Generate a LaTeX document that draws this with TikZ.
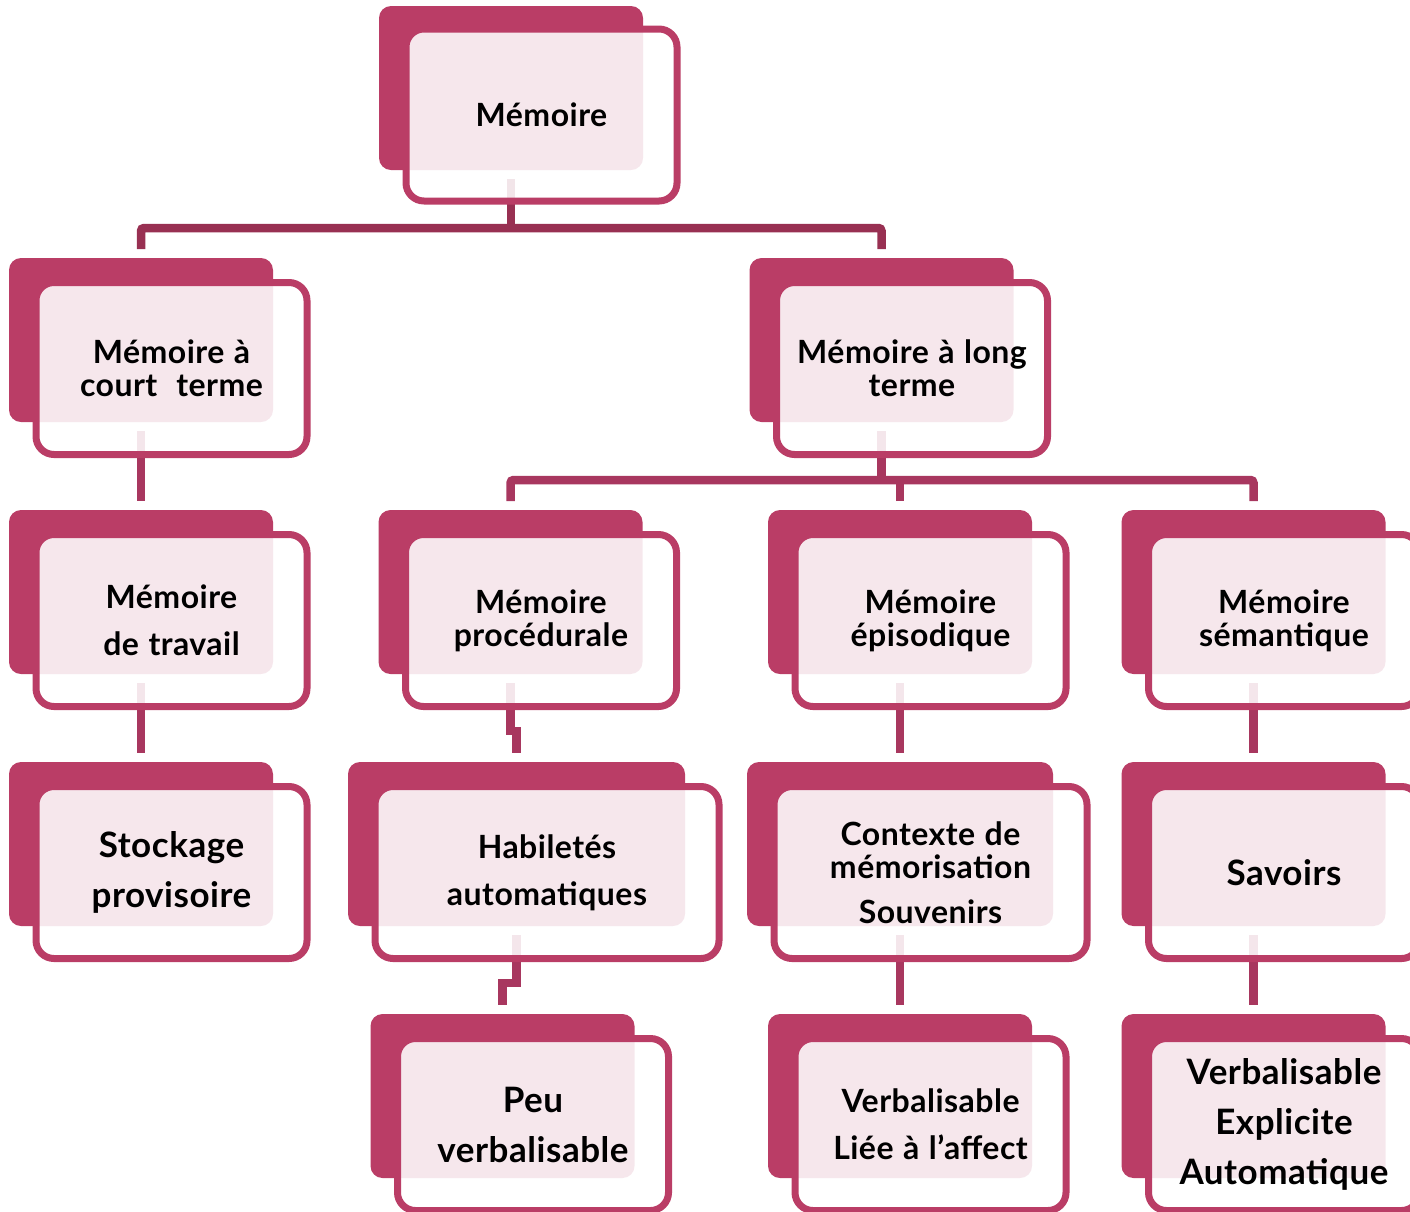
\documentclass[tikz,border=0pt]{standalone}
\usepackage{fontspec}
\setmainfont{Lato}[LetterSpace=1.5, WordSpace=1.15]
\usetikzlibrary{calc}
\definecolor{mpink}{RGB}{186,61,102}
\definecolor{mlink}{RGB}{168,55,95}
\definecolor{mtop}{RGB}{152,48,82}

\begin{document}
\begin{tikzpicture}[x=1pt, y=-1pt,
    backbox/.style={fill=mpink, rounded corners=12pt, minimum width=264pt, minimum height=164pt, inner sep=0pt, outer sep=9pt},
    frontbox/.style={draw=mpink, line width=7pt, fill=white, fill opacity=0.88, text opacity=1, rounded corners=18pt,
      minimum width=271pt, minimum height=172pt, inner sep=0pt, align=center, font=\bfseries\fontsize{32}{33}\selectfont},
    bigtext/.style={font=\bfseries\fontsize{35}{50}\selectfont},
    link/.style={mlink, line width=8.5pt},
    toplink/.style={link, draw=mtop}]

      \useasboundingbox (0, 0) rectangle (1410, 1211);
      \clip (0, 0) rectangle (1410, 1211);

      % back plates
      \node [backbox] (mem-b) at (511, 88) {};
      \node [backbox] (court-b) at (141, 340) {};
      \node [backbox] (long-b) at (881.5, 340) {};
      \node [backbox] (trav-b) at (141, 592) {};
      \node [backbox] (proc-b) at (510.5, 592) {};
      \node [backbox] (epi-b) at (900, 592) {};
      \node [backbox] (sem-b) at (1253.5, 592) {};
      \node [backbox] (stock-b) at (141, 844) {};
      \node [backbox, minimum width=337pt] (hab-b) at (516.5, 844) {};
      \node [backbox, minimum width=306pt] (ctx-b) at (900, 844) {};
      \node [backbox] (sav-b) at (1253.5, 844) {};
      \node [backbox] (peu-b) at (502.5, 1096) {};
      \node [backbox] (lie-b) at (900, 1096) {};
      \node [backbox] (expl-b) at (1253.5, 1096) {};

      % connectors
      \draw [toplink] (mem-b.south) -- ++(0, 49) coordinate (topbar);
      \draw [toplink, rounded corners=3pt] (court-b.north) |- (topbar) -| (long-b.north);
      \draw [link] (court-b.south) -- (trav-b.north);
      \draw [link] (trav-b.south) -- (stock-b.north);
      \draw [link] (long-b.south) -- ++(0, 49) coordinate (longbar);
      \draw [link, rounded corners=3pt] (proc-b.north) |- (longbar) -| (sem-b.north);
      \draw [link] (epi-b.north) -- (epi-b.north |- longbar);
      \draw [link] (proc-b.south) -- ++(0, 48) -| (hab-b.north);
      \draw [link] (hab-b.south) -- ++(0, 48) -| (peu-b.north);
      \draw [link] (epi-b.south) -- (ctx-b.north);
      \draw [link] (ctx-b.south) -- (lie-b.north);
      \draw [link] (sem-b.south) -- (sav-b.north);
      \draw [link] (sav-b.south) -- (expl-b.north);

      % front boxes
      \node [frontbox] (mem) at ($(mem-b)+(30.5, 27)$) {Mémoire};
      \node [frontbox] (court) at ($(court-b)+(30.5, 28.5)$) {Mémoire à\\court~ terme};
      \node [frontbox] (long) at ($(long-b)+(30.5, 28.5)$) {Mémoire à long\\terme};
      \node [frontbox] (trav) at ($(trav-b)+(30.5, 28.5)$) {Mémoire\\[14pt]de travail};
      \node [frontbox] (proc) at ($(proc-b)+(30.5, 28.5)$) {Mémoire\\procédurale};
      \node [frontbox] (epi) at ($(epi-b)+(30.5, 28.5)$) {Mémoire\\épisodique};
      \node [frontbox] (sem) at ($(sem-b)+(30.5, 28.5)$) {Mémoire\\sémantique};
      \node [frontbox, bigtext] (stock) at ($(stock-b)+(30.5, 28.5)$) {Stockage\\provisoire};
      \node [frontbox, minimum width=344pt] (hab) at ($(hab-b)+(30.5, 28.5)$) {Habiletés\\[14pt]automatiques};
      \node [frontbox, minimum width=313pt] (ctx) at ($(ctx-b)+(30.5, 28.5)$) {Contexte de\\mémorisation\\[12pt]Souvenirs};
      \node [frontbox, bigtext] (sav) at ($(sav-b)+(30.5, 28.5)$) {Savoirs};
      \node [frontbox, bigtext] (peu) at ($(peu-b)+(30.5, 28.5)$) {Peu\\verbalisable};
      \node [frontbox] (lie) at ($(lie-b)+(30.5, 28.5)$) {Verbalisable\\[14pt]Liée à l’affect};
      \node [frontbox, bigtext] (expl) at ($(expl-b)+(30.5, 28.5)$) {Verbalisable\\Explicite\\Automatique};
    \end{tikzpicture}
\end{document}
